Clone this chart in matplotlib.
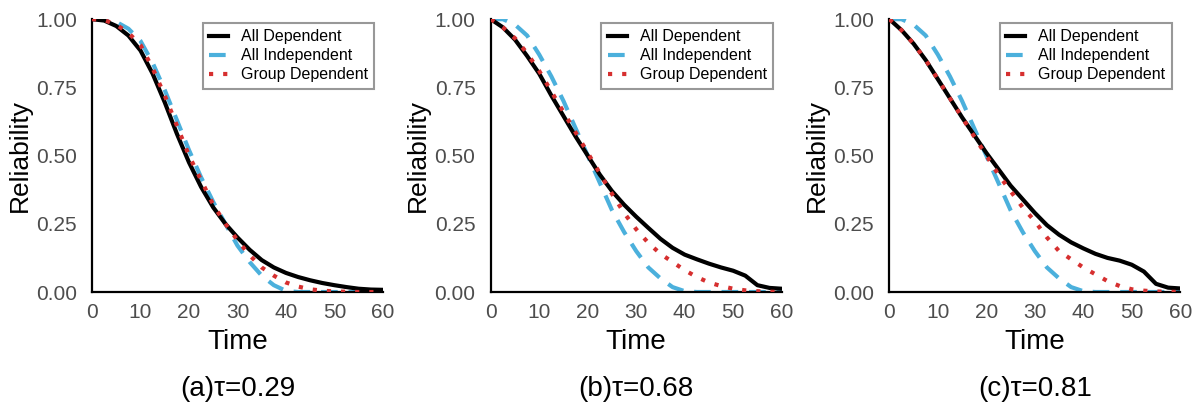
import matplotlib.pyplot as plt

plt.rcParams['font.family'] = ['Liberation Sans', 'DejaVu Sans']

# time grid shared by all curves
t = [0, 2.5, 5, 7.5, 10, 12.5, 15, 17.5, 20, 22.5, 25, 27.5, 30, 32.5, 35,
     37.5, 40, 42.5, 45, 47.5, 50, 52.5, 55, 57.5, 60]

# (a) tau = 0.29
a_dep = [1.0, 0.995, 0.975, 0.94, 0.885, 0.80, 0.695, 0.58, 0.475, 0.385,
         0.31, 0.25, 0.20, 0.155, 0.117, 0.09, 0.07, 0.055, 0.043, 0.033,
         0.025, 0.018, 0.012, 0.009, 0.008]
a_ind = [1.0, 1.0, 0.99, 0.965, 0.92, 0.84, 0.74, 0.63, 0.52, 0.42, 0.33,
         0.25, 0.17, 0.11, 0.06, 0.025, 0.004, 0.0, 0.0, 0.0, 0.0, 0.0, 0.0,
         0.0, 0.0]
a_grp = [1.0, 0.997, 0.98, 0.95, 0.905, 0.82, 0.72, 0.61, 0.50, 0.41, 0.32,
         0.25, 0.19, 0.135, 0.09, 0.06, 0.035, 0.02, 0.01, 0.005, 0.002,
         0.001, 0.0, 0.0, 0.0]

# (b) tau = 0.68
b_dep = [1.0, 0.97, 0.925, 0.865, 0.80, 0.72, 0.645, 0.57, 0.50, 0.43, 0.37,
         0.32, 0.276, 0.235, 0.195, 0.162, 0.137, 0.12, 0.104, 0.09, 0.078,
         0.06, 0.025, 0.015, 0.012]
b_ind = [1.0, 1.0, 0.98, 0.94, 0.87, 0.79, 0.70, 0.60, 0.50, 0.40, 0.30,
         0.22, 0.15, 0.09, 0.05, 0.018, 0.003, 0.0, 0.0, 0.0, 0.0, 0.0, 0.0,
         0.0, 0.0]
b_grp = [1.0, 0.97, 0.93, 0.875, 0.81, 0.735, 0.66, 0.585, 0.51, 0.435, 0.36,
         0.29, 0.23, 0.18, 0.14, 0.11, 0.08, 0.055, 0.035, 0.022, 0.012,
         0.006, 0.003, 0.001, 0.0]

# (c) tau = 0.81
c_dep = [1.0, 0.96, 0.91, 0.85, 0.78, 0.71, 0.64, 0.575, 0.51, 0.45, 0.39,
         0.34, 0.29, 0.245, 0.21, 0.182, 0.16, 0.14, 0.125, 0.115, 0.10,
         0.075, 0.03, 0.016, 0.013]
c_ind = [1.0, 1.0, 0.98, 0.94, 0.87, 0.79, 0.70, 0.60, 0.50, 0.40, 0.30,
         0.22, 0.15, 0.09, 0.05, 0.018, 0.003, 0.0, 0.0, 0.0, 0.0, 0.0, 0.0,
         0.0, 0.0]
c_grp = [1.0, 0.96, 0.91, 0.85, 0.78, 0.71, 0.64, 0.57, 0.50, 0.43, 0.37,
         0.31, 0.26, 0.20, 0.15, 0.12, 0.09, 0.065, 0.04, 0.022, 0.01,
         0.005, 0.002, 0.001, 0.0]

panels = [
    ("(a)\u03c4=0.29", a_dep, a_ind, a_grp),
    ("(b)\u03c4=0.68", b_dep, b_ind, b_grp),
    ("(c)\u03c4=0.81", c_dep, c_ind, c_grp),
]
lefts = [0.0769, 0.410, 0.743]

fig = plt.figure(figsize=(11.97, 4.03), dpi=100)

for left, (title, dep, ind, grp) in zip(lefts, panels):
    ax = fig.add_axes([left, 0.2754, 0.243, 0.677])
    ax.plot(t, dep, color="black", lw=3, label="All Dependent", zorder=3)
    ax.plot(t, ind, color="#4bb0dc", lw=3, dashes=(4, 2.6),
            label="All Independent", zorder=2)
    ax.plot(t, grp, color="#d62f2f", lw=3, dashes=(1, 2.4),
            label="Group Dependent", zorder=4)

    ax.set_xlim(0, 60)
    ax.set_ylim(0, 1)
    ax.set_xticks([0, 10, 20, 30, 40, 50, 60])
    ax.set_yticks([0, 0.25, 0.5, 0.75, 1.0])
    ax.set_yticklabels(["0.00", "0.25", "0.50", "0.75", "1.00"])
    ax.tick_params(length=0, labelsize=15, labelcolor="#4d4d4d")
    ax.tick_params(axis="y", pad=11)
    ax.tick_params(axis="x", pad=8)
    ax.margins(0)
    for side in ("top", "right"):
        ax.spines[side].set_visible(False)
    for side in ("left", "bottom"):
        ax.spines[side].set_linewidth(1.6)

    ax.set_xlabel("Time", fontsize=20, labelpad=5)
    ax.set_ylabel("Reliability", fontsize=19, labelpad=3)
    fig.text(left + 0.1215, 0.035, title, ha="center", va="center",
             fontsize=20)

    leg = ax.legend(loc="upper right", bbox_to_anchor=(0.998, 1.015),
                    fontsize=11.5, frameon=True, fancybox=False,
                    handlelength=1.2, handletextpad=0.8, borderpad=0.4,
                    labelspacing=0.25)
    leg.get_frame().set_edgecolor("#7f7f7f")
    leg.get_frame().set_linewidth(1.5)

plt.savefig("out.png", dpi=100)
